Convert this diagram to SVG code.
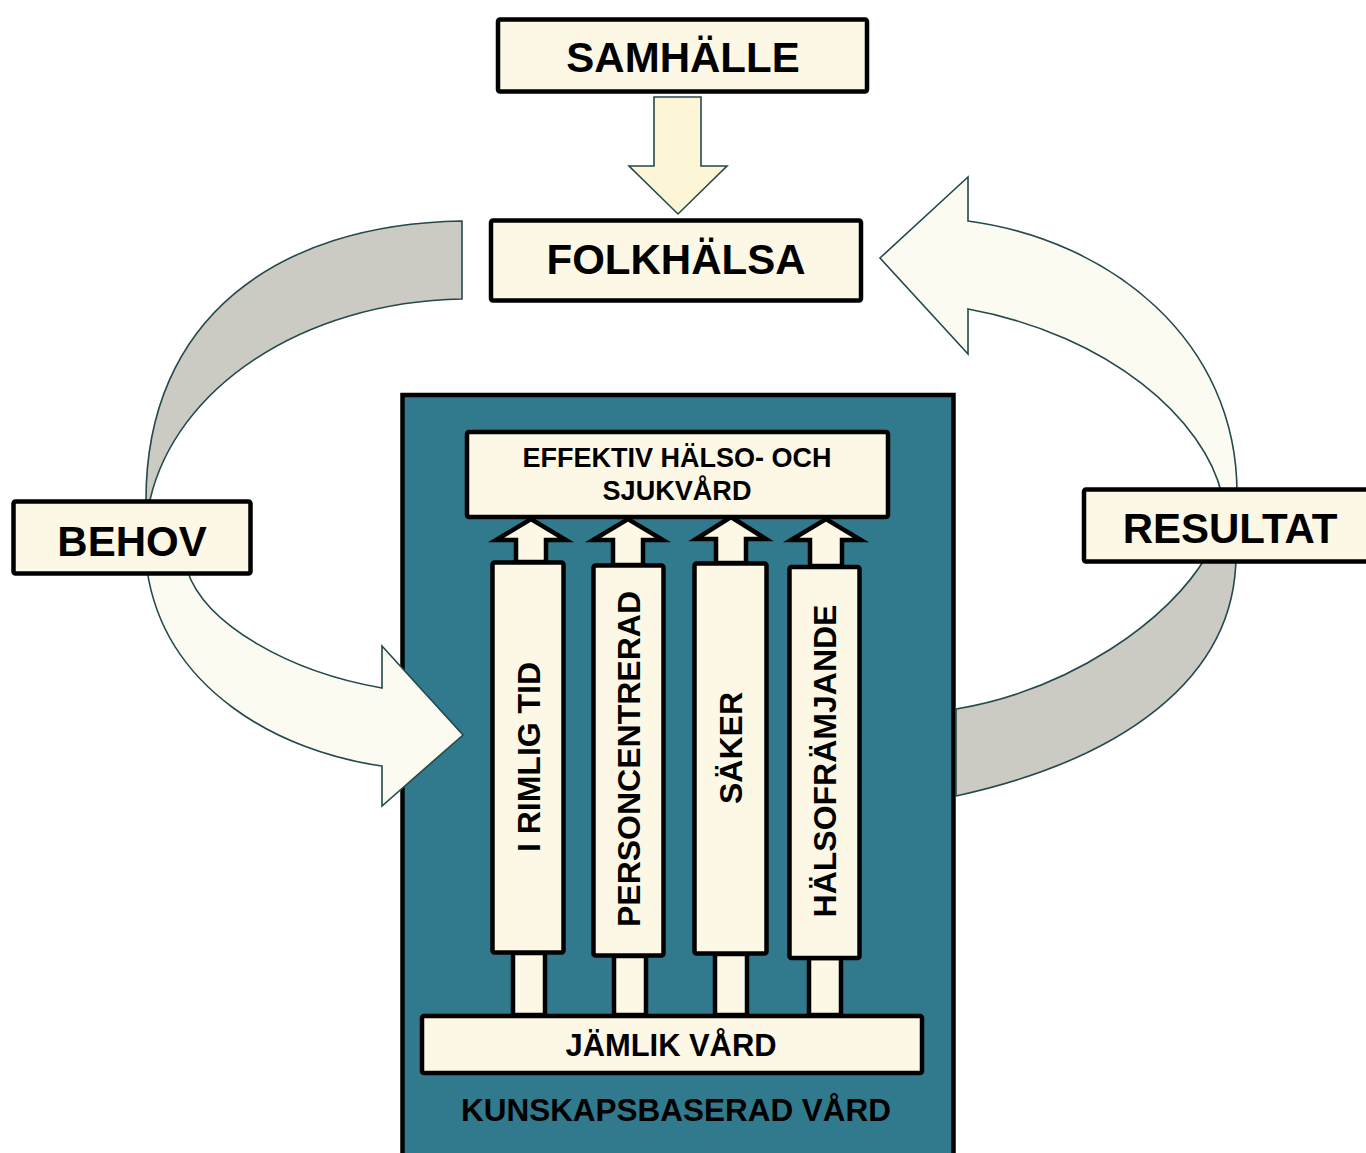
<svg xmlns="http://www.w3.org/2000/svg" width="1366" height="1153" viewBox="0 0 1366 1153">
<style>
.box{fill:#FDF8E5;stroke:#000;stroke-width:4.5;stroke-linejoin:round}
.lbl{font-family:"Liberation Sans",Arial,sans-serif;font-weight:bold;fill:#000;text-anchor:middle}
.big{font-size:42px}
.mid{font-size:31px}
.pil{font-size:32px}
.curve{stroke:#24484C;stroke-width:1.6;stroke-linejoin:miter}
.white{fill:#FCFBF1}
.gray{fill:#CBCBC3}
.blk{fill:#FDF8E5;stroke:#000;stroke-width:4.5;stroke-linejoin:miter}
</style>
<rect width="1366" height="1153" fill="#fff"/>
<g id="kunskapsbaserad-vard">
<rect x="402.5" y="395" width="551" height="770" fill="#317A8D" stroke="#000" stroke-width="4.5"/>
<text class="lbl mid" x="676" y="1121" textLength="430" lengthAdjust="spacingAndGlyphs">KUNSKAPSBASERAD VÅRD</text>
</g>
<g id="connectors">
<path class="curve" d="M654,97 L701,97 L701,166 L727,166 L678,214 L629,166 L654,166 Z" fill="#FCF6D7"/>
<path class="curve gray" d="M462,221 L462,299 C300,302 175,390 150,500 L146,500 C146,320 275,224 462,221 Z"/>
<path class="curve white" d="M147,570 C165,690 280,752 382,766 L382,806 L463,735 L382,646 L382,688 C290,672 205,625 187,570 Z"/>
<path class="curve white" d="M968,221 C1110,240 1238,340 1237,495 L1222,495 C1205,420 1110,335 968,309 L968,354 L880,258 L968,177 Z"/>
<path class="curve gray" d="M1207,555 C1170,620 1070,690 956,709 L956,796 C1120,760 1236,680 1236,555 Z"/>
<polygon class="blk" points="516,562 516,540 496,540 531,519 566,540 546,540 546,562"/>
<polygon class="blk" points="613,565 613,540 593,540 628,519 663,540 643,540 643,565"/>
<polygon class="blk" points="716,563 716,539 696,539 731,517 766,539 746,539 746,563"/>
<polygon class="blk" points="810,566 810,540 791,540 826,519 861,540 842,540 842,566"/>
<rect class="blk" x="513" y="953" width="32" height="62"/>
<rect class="blk" x="614" y="956" width="32" height="59"/>
<rect class="blk" x="715" y="954" width="32" height="61"/>
<rect class="blk" x="809" y="958" width="32" height="57"/>
</g>
<g id="samhalle">
<rect class="box" x="498" y="19.5" width="369" height="72" rx="2"/>
<text class="lbl big" x="683" y="72">SAMHÄLLE</text>
</g>
<g id="folkhalsa">
<rect class="box" x="491" y="220.5" width="370" height="80" rx="2"/>
<text class="lbl big" x="676" y="274">FOLKHÄLSA</text>
</g>
<g id="behov">
<rect class="box" x="13.5" y="501.5" width="237" height="72" rx="2"/>
<text class="lbl big" x="132" y="556">BEHOV</text>
</g>
<g id="resultat">
<rect class="box" x="1084" y="489.5" width="290" height="72" rx="2"/>
<text class="lbl big" x="1230" y="543">RESULTAT</text>
</g>
<g id="effektiv">
<rect class="box" x="467" y="432" width="421" height="85" rx="2"/>
<text class="lbl" x="677" y="467" font-size="27" textLength="309" lengthAdjust="spacingAndGlyphs">EFFEKTIV HÄLSO- OCH</text>
<text class="lbl" x="677" y="500" font-size="27" textLength="149" lengthAdjust="spacingAndGlyphs">SJUKVÅRD</text>
</g>
<g id="pelare-i-rimlig-tid">
<rect class="box" x="492.5" y="562.5" width="71" height="390" rx="2"/>
<text class="lbl pil" transform="translate(539.5,757) rotate(-90)">I RIMLIG TID</text>
</g>
<g id="pelare-personcentrerad">
<rect class="box" x="593.5" y="565.5" width="70" height="390" rx="2"/>
<text class="lbl pil" transform="translate(639.5,759) rotate(-90)">PERSONCENTRERAD</text>
</g>
<g id="pelare-saker">
<rect class="box" x="694.5" y="563.5" width="72" height="390" rx="2"/>
<text class="lbl pil" transform="translate(741.5,748) rotate(-90)">SÄKER</text>
</g>
<g id="pelare-halsoframjande">
<rect class="box" x="789.5" y="567" width="70" height="391" rx="2"/>
<text class="lbl pil" transform="translate(835.5,761) rotate(-90)">HÄLSOFRÄMJANDE</text>
</g>
<g id="jamlik-vard">
<rect class="box" x="422" y="1016" width="500" height="57" rx="2"/>
<text class="lbl mid" x="671" y="1056" textLength="211" lengthAdjust="spacingAndGlyphs">JÄMLIK VÅRD</text>
</g>
</svg>
